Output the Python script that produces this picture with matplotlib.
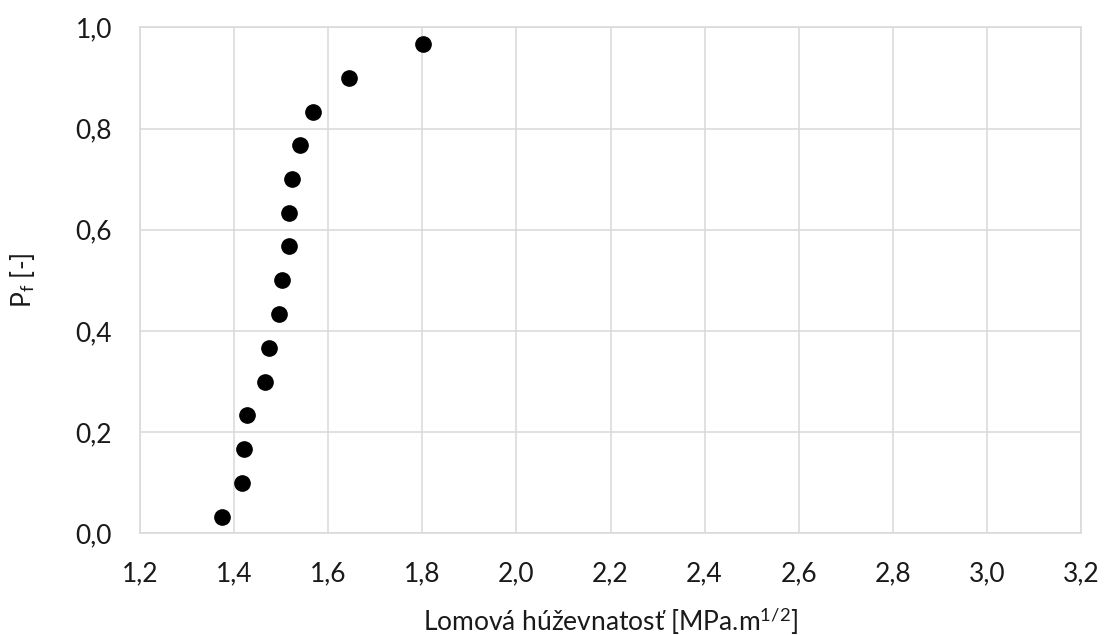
import matplotlib
matplotlib.use('Agg')
import matplotlib.pyplot as plt
from matplotlib.ticker import FuncFormatter

# fracture toughness values and failure probability
toughness = [1.375, 1.417, 1.420, 1.427, 1.465, 1.474, 1.495, 1.501,
             1.516, 1.516, 1.524, 1.540, 1.568, 1.644, 1.802]
prob_fail = [0.033, 0.100, 0.167, 0.233, 0.300, 0.367, 0.433, 0.500,
             0.567, 0.633, 0.700, 0.767, 0.833, 0.900, 0.967]

x_ticks = [1.2, 1.4, 1.6, 1.8, 2.0, 2.2, 2.4, 2.6, 2.8, 3.0, 3.2]
y_ticks = [0.0, 0.2, 0.4, 0.6, 0.8, 1.0]

plt.rcParams['font.family'] = ['Lato', 'DejaVu Sans']
plt.rcParams['mathtext.fontset'] = 'custom'
plt.rcParams['mathtext.rm'] = 'Lato'
plt.rcParams['mathtext.it'] = 'Lato:italic'

grid_col = '#d9d9d9'
text_col = '#1a1a1a'

fig = plt.figure(figsize=(11.05, 6.35), dpi=100)
ax = fig.add_axes([0.1267, 0.160, 0.8516, 0.797])

ax.plot(toughness, prob_fail, 'o', color='black', markersize=11, zorder=3)

ax.set_xlim(x_ticks[0], x_ticks[-1])
ax.set_ylim(y_ticks[0], y_ticks[-1])
ax.set_xticks(x_ticks)
ax.set_yticks(y_ticks)

comma = FuncFormatter(lambda v, pos: f'{v:.1f}'.replace('.', ','))
ax.xaxis.set_major_formatter(comma)
ax.yaxis.set_major_formatter(comma)

ax.grid(True, color=grid_col, linewidth=1.1)
ax.set_axisbelow(True)
for s in ax.spines.values():
    s.set_color(grid_col)
    s.set_linewidth(1.1)

ax.tick_params(length=0, labelsize=19, colors=text_col)
ax.tick_params(axis='x', pad=20)
ax.tick_params(axis='y', pad=20)

ax.set_xlabel('Lomová húževnatosť [MPa.m$^{1/2}$]', fontsize=19, color=text_col, labelpad=14)
ax.set_ylabel('P$_{\\mathrm{f}}$ [-]', fontsize=19, color=text_col, labelpad=28)

plt.savefig('out.png', dpi=100)
